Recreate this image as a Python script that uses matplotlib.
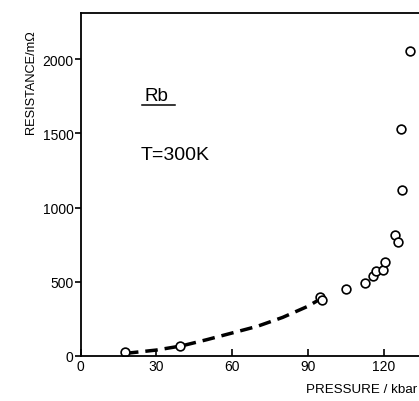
import matplotlib.pyplot as plt

plt.rcParams['font.family'] = ['Liberation Sans', 'DejaVu Sans']
plt.rcParams['font.size'] = 8

# measured points (kbar, mOhm)
pressure = [17.6, 39.4, 94.8, 95.4, 105.0, 112.7, 115.6, 116.8, 119.6, 120.5,
            124.6, 125.8, 127.4, 126.9, 130.2]
resistance = [29, 65, 395, 377, 451, 491, 540, 574, 579, 635,
              816, 767, 1117, 1532, 2055]

# dashed guide curve through the low-pressure data
curve_p = [18, 30, 40, 50, 60, 70, 80, 90, 96]
curve_r = [18, 40, 68, 110, 155, 200, 260, 335, 395]

x_ticks = [0, 30, 60, 90, 120]
y_ticks = [0, 500, 1000, 1500, 2000]

W, H = 419, 402
fig = plt.figure(figsize=(W / 100, H / 100), dpi=100)
ax = fig.add_axes([80.5 / W, 1 - 357 / H, 1 - 80.5 / W, (357 - 14) / H])

ax.plot(curve_p, curve_r, color='black', linewidth=2.5, linestyle=(0, (3.6, 2.0)),
        dash_capstyle='butt')
ax.plot(pressure, resistance, linestyle='none', marker='o', markersize=6.3,
        markerfacecolor='white', markeredgecolor='black', markeredgewidth=1.2)

ax.set_xlim(0, (W - 80.5) / 2.527)
ax.set_ylim(0, 2310)
ax.set_xticks(x_ticks)
ax.set_yticks(y_ticks)
ax.tick_params(axis='x', direction='in', length=5, width=1.2, pad=2, labelsize=10)
ax.tick_params(axis='y', direction='out', length=4, width=1.2, pad=1, labelsize=10)
ax.spines['right'].set_visible(False)
for s in ['left', 'bottom', 'top']:
    ax.spines[s].set_linewidth(1.3)

ax.text(25.5, 1757, 'Rb', fontsize=13.5, ha='left', va='center')
ax.plot([24.5, 37.5], [1690, 1690], color='black', linewidth=1.1)
ax.text(23.6, 1360, 'T=300K', fontsize=14, ha='left', va='center')

fig.text(31 / W, 1 - 82 / H, 'RESISTANCE/m\u03a9', rotation=90, ha='center', va='center', fontsize=9.2)
fig.text(362 / W, 1 - 390 / H, 'PRESSURE / kbar', ha='center', va='center', fontsize=9.6)

fig.savefig('out.png', dpi=100)
